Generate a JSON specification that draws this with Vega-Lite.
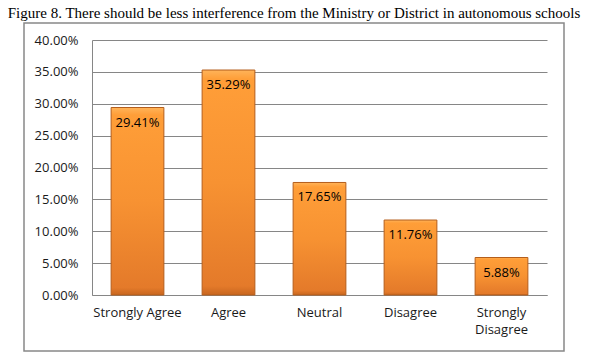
{
  "$schema": "https://vega.github.io/schema/vega-lite/v6.json",
  "autosize": {"type": "none"},
  "width": 540,
  "height": 328,
  "padding": {"left": 24, "top": 23, "right": 27, "bottom": 13},
  "background": "white",
  "title": {
    "text": "Figure 8. There should be less interference from the Ministry or District in autonomous schools",
    "font": "Liberation Serif",
    "fontSize": 15,
    "fontWeight": "normal",
    "color": "#000000",
    "anchor": "middle",
    "offset": 2
  },
  "data": {
    "values": [
      {"response": "Strongly Agree", "pct": 0.2941},
      {"response": "Agree", "pct": 0.3529},
      {"response": "Neutral", "pct": 0.1765},
      {"response": "Disagree", "pct": 0.1176},
      {"response": "Strongly Disagree", "pct": 0.0588}
    ]
  },
  "encoding": {
    "x": {
      "field": "response",
      "type": "nominal",
      "sort": null,
      "title": null,
      "scale": {"range": [68, 523], "paddingInner": 0.42, "paddingOuter": 0.21},
      "axis": {
        "offset": -56,
        "ticks": false,
        "labelAngle": 0,
        "labelPadding": 11,
        "labelFont": "Open Sans",
        "labelFontSize": 13,
        "labelColor": "#1a1a1a",
        "labelLineHeight": 17,
        "labelExpr": "datum.value == 'Strongly Disagree' ? ['Strongly', 'Disagree'] : datum.label",
        "domainColor": "#868686",
        "domainWidth": 1,
        "grid": false
      }
    },
    "y": {
      "field": "pct",
      "type": "quantitative",
      "title": null,
      "scale": {"domain": [0, 0.4], "range": [272, 17], "nice": false},
      "axis": {
        "offset": -68,
        "values": [0, 0.05, 0.1, 0.15, 0.2, 0.25, 0.3, 0.35, 0.4],
        "format": ".2%",
        "ticks": false,
        "labelPadding": 14,
        "labelFont": "Open Sans",
        "labelFontSize": 13,
        "labelColor": "#1a1a1a",
        "domainColor": "#868686",
        "domainWidth": 1,
        "grid": true,
        "gridColor": "#868686",
        "gridWidth": 1
      }
    }
  },
  "layer": [
    {
      "mark": {
        "type": "bar",
        "stroke": "#b45e1c",
        "strokeWidth": 1,
        "color": {
          "gradient": "linear",
          "x1": 0, "y1": 0, "x2": 0, "y2": 1,
          "stops": [
            {"offset": 0, "color": "#ffb45a"},
            {"offset": 0.04, "color": "#ff9e38"},
            {"offset": 0.5, "color": "#f79232"},
            {"offset": 0.96, "color": "#e47a2a"},
            {"offset": 1, "color": "#c8661f"}
          ]
        }
      }
    },
    {
      "mark": {
        "type": "text",
        "baseline": "middle",
        "dy": 15,
        "font": "Open Sans",
        "fontSize": 13,
        "color": "#000000"
      },
      "encoding": {
        "text": {"field": "pct", "type": "quantitative", "format": ".2%"}
      }
    }
  ],
  "config": {
    "view": {"stroke": "#888888", "strokeWidth": 1.5}
  }
}
